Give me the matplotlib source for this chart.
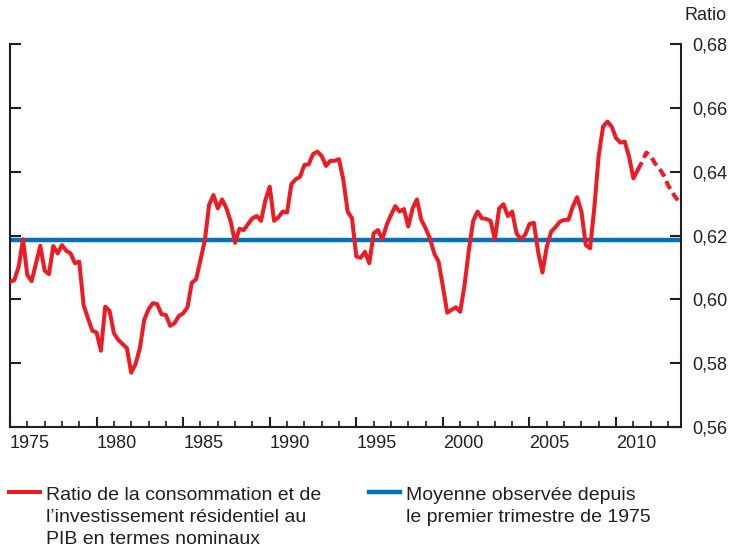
import numpy as np
import matplotlib
matplotlib.use('Agg')
from matplotlib import pyplot as plt
from matplotlib.lines import Line2D
from matplotlib.ticker import MultipleLocator, FuncFormatter

plt.rcParams['font.family'] = ['Liberation Sans', 'DejaVu Sans']

# données trimestrielles, à partir du 1er trimestre de 1975
debut = 1975.0
ratio = [
    0.6055, 0.6060, 0.6102, 0.6188, 0.6076, 0.6057, 0.6113, 0.6168,
    0.6090, 0.6079, 0.6167, 0.6144, 0.6170, 0.6152, 0.6144, 0.6113,
    0.6118, 0.5982, 0.5941, 0.5902, 0.5896, 0.5839, 0.5977, 0.5964,
    0.5894, 0.5873, 0.5860, 0.5847, 0.5770, 0.5797, 0.5847, 0.5935,
    0.5969, 0.5988, 0.5985, 0.5953, 0.5951, 0.5917, 0.5925, 0.5948,
    0.5956, 0.5975, 0.6052, 0.6063, 0.6123, 0.6184, 0.6296, 0.6327,
    0.6285, 0.6313, 0.6285, 0.6243, 0.6177, 0.6221, 0.6217, 0.6236,
    0.6254, 0.6261, 0.6246, 0.6311, 0.6353, 0.6246, 0.6257, 0.6275,
    0.6272, 0.6361, 0.6376, 0.6384, 0.6421, 0.6423, 0.6455, 0.6463,
    0.6449, 0.6418, 0.6434, 0.6434, 0.6439, 0.6374, 0.6275, 0.6254,
    0.6134, 0.6130, 0.6149, 0.6113, 0.6207, 0.6217, 0.6188, 0.6233,
    0.6264, 0.6292, 0.6275, 0.6283, 0.6228, 0.6285, 0.6313, 0.6249,
    0.6223, 0.6191, 0.6144, 0.6118, 0.6040, 0.5958, 0.5967, 0.5975,
    0.5961, 0.6045, 0.6155, 0.6246, 0.6275, 0.6254, 0.6252, 0.6246,
    0.6188, 0.6285, 0.6298, 0.6261, 0.6275, 0.6207, 0.6188, 0.6202,
    0.6236, 0.6240, 0.6149, 0.6084, 0.6165, 0.6212, 0.6226, 0.6243,
    0.6249, 0.6249, 0.6290, 0.6320, 0.6275, 0.6170, 0.6160, 0.6290,
    0.6452, 0.6541, 0.6557, 0.6541, 0.6505, 0.6491, 0.6494, 0.6447,
    0.6379, 0.6405,
]
# projection (pointillé), part du dernier point observé
projection = [0.6405, 0.6431, 0.6460, 0.6449, 0.6426, 0.6410, 0.6389,
              0.6358, 0.6334, 0.6315, 0.6300]
moyenne = 0.6187

annees = debut + np.arange(len(ratio)) / 4
annees_proj = annees[-1] + np.arange(len(projection)) / 4

rouge = '#ED1C24'
bleu = '#0071BC'
noir = '#231F20'

fig = plt.figure(figsize=(7.31, 5.5), dpi=100)
ax = fig.add_axes([10 / 731, 1 - 427 / 550, 671 / 731, 383 / 550])

ax.axhline(moyenne, color=bleu, lw=3.2, zorder=2)
ax.plot(annees, ratio, color=rouge, lw=2.9, solid_joinstyle='round', zorder=3)
ax.plot(annees_proj, projection, color=rouge, lw=2.9, dashes=(2.2, 1.2), zorder=3)

ax.set_xlim(1975, 2013.75)
ax.set_ylim(0.56, 0.68)

for s in ['left', 'right', 'bottom']:
    ax.spines[s].set_color(noir)
    ax.spines[s].set_linewidth(1.5)
ax.spines['top'].set_visible(False)

ax.yaxis.set_major_locator(MultipleLocator(0.02))
ax.yaxis.set_major_formatter(FuncFormatter(lambda v, p: f'{v:.2f}'.replace('.', ',')))
ax.tick_params(axis='y', left=True, right=True, labelleft=False, labelright=True,
               direction='in', length=8, width=1.5, color=noir, pad=8,
               labelsize=13, labelcolor=noir)

ax.xaxis.set_major_locator(MultipleLocator(5))
ax.xaxis.set_minor_locator(MultipleLocator(1))
ax.xaxis.set_major_formatter(FuncFormatter(lambda v, p: f'{int(round(v))}'))
ax.tick_params(axis='x', which='major', direction='in', length=7.5, width=1.5,
               color=noir, pad=6, labelsize=13, labelcolor=noir)
ax.tick_params(axis='x', which='minor', direction='in', length=4, width=1.2, color=noir)
for lab in ax.get_xticklabels():
    lab.set_ha('left')

fig.text(685 / 731, 1 - 15 / 550, 'Ratio', fontsize=13, color=noir, ha='left', va='center')

# légende
y0 = 1 - 492 / 550
y_txt = 1 - 487 / 550
fig.add_artist(Line2D([9 / 731, 40 / 731], [y0, y0], color=rouge, lw=2.9))
fig.text(46 / 731, y_txt, 'Ratio de la consommation et de\n'
         'l\u2019investissement résidentiel au\nPIB en termes nominaux',
         fontsize=14, color=noir, ha='left', va='top', linespacing=1.4)
fig.add_artist(Line2D([369 / 731, 400 / 731], [y0, y0], color=bleu, lw=3.2))
fig.text(406 / 731, y_txt, 'Moyenne observée depuis\nle premier trimestre de 1975',
         fontsize=14, color=noir, ha='left', va='top', linespacing=1.4)

fig.savefig('out.png', dpi=100)
